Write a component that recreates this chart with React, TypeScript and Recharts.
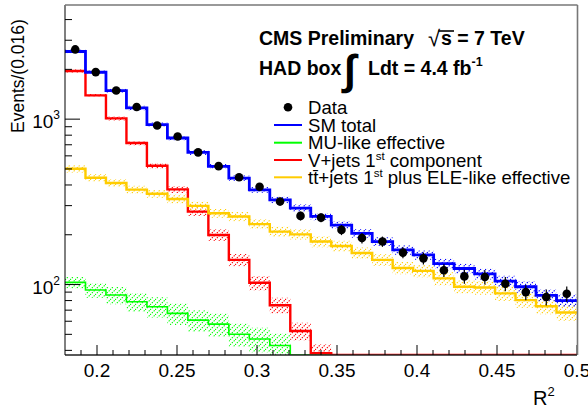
import React from 'react';
import { ComposedChart, Line, Area, Scatter, ErrorBar, XAxis, YAxis } from 'recharts';

const W = 588;
const H = 406;
const FLOOR = 37.5;
const Y_MAX = 4900;
const FONT = '"Liberation Sans", Arial, Helvetica, sans-serif';

// bin edges (25 bins of R^2)
const binEdges = [0.18, 0.1928, 0.2056, 0.2184, 0.2312, 0.244, 0.2568, 0.2696, 0.2824, 0.2952, 0.308, 0.3208, 0.3336, 0.3464, 0.3592, 0.372, 0.3848, 0.3976, 0.4104, 0.4232, 0.436, 0.4488, 0.4616, 0.4744, 0.4872, 0.5];

// observed data
const dataCounts = [2640, 1925, 1490, 1185, 915, 785, 630, 520, 445, 390, 318, 260, 254, 214, 191, 182, 156, 144, 122, 112, 111, 101, 90, 84, 88];
const dataErrors = [51, 44, 39, 34, 30, 28, 25, 23, 21, 20, 18, 16, 16, 15, 14, 13, 12, 12, 11, 11, 11, 10, 9.5, 9.2, 9.4];

// SM total
const smTotal = [2565, 1921, 1488, 1169, 926, 769, 629, 518, 440, 374, 325, 290, 258, 229, 204, 182, 162, 151, 134, 125, 116, 105, 97, 86, 80];
const smTotalErr = [0.025, 0.025, 0.025, 0.03, 0.03, 0.03, 0.035, 0.035, 0.04, 0.04, 0.045, 0.05, 0.05, 0.055, 0.06, 0.06, 0.065, 0.065, 0.07, 0.07, 0.075, 0.075, 0.08, 0.08, 0.085];

// MU-like effective
const muLike = [103, 92.6, 86.4, 78.7, 73.4, 66.9, 60.9, 57.6, 50.1, 46.9, 42.8, 0, 0, 0, 0, 0, 0, 0, 0, 0, 0, 0, 0, 0, 0];
const muLikeErr = [0.08, 0.1, 0.12, 0.13, 0.14, 0.15, 0.15, 0.16, 0.16, 0.17, 0.18, 0, 0, 0, 0, 0, 0, 0, 0, 0, 0, 0, 0, 0, 0];

// V+jets 1st component
const vJets = [1954, 1392, 1011, 717, 523, 376, 276, 199.5, 141, 102.5, 75, 52.4, 38.4, 0, 0, 0, 0, 0, 0, 0, 0, 0, 0, 0, 0];
const vJetsErr = [0.02, 0.02, 0.03, 0.03, 0.04, 0.05, 0.06, 0.08, 0.085, 0.1, 0.11, 0.12, 0.13, 0, 0, 0, 0, 0, 0, 0, 0, 0, 0, 0, 0];

// ttbar+jets 1st plus ELE-like effective
const ttJets = [501, 442, 411, 375, 354, 329, 299, 270, 258, 232, 209, 201, 182, 171, 155, 141, 126, 121, 109, 97, 96, 88.4, 80.5, 74, 67.8];
const ttJetsErr = [0.05, 0.05, 0.05, 0.055, 0.055, 0.06, 0.06, 0.06, 0.065, 0.065, 0.07, 0.07, 0.075, 0.075, 0.08, 0.08, 0.085, 0.085, 0.09, 0.09, 0.095, 0.1, 0.1, 0.105, 0.11];

// axis ticks
const xMinorTicks = [0.19, 0.2, 0.21, 0.22, 0.23, 0.24, 0.25, 0.26, 0.27, 0.28, 0.29, 0.3, 0.31, 0.32, 0.33, 0.34, 0.35, 0.36, 0.37, 0.38, 0.39, 0.4, 0.41, 0.42, 0.43, 0.44, 0.45, 0.46, 0.47, 0.48, 0.49, 0.5];
const xMajorTicks = [0.2, 0.25, 0.3, 0.35, 0.4, 0.45, 0.5];
const xMajorLabels = ['0.2', '0.25', '0.3', '0.35', '0.4', '0.45', '0.5'];
const yTicks = [40, 50, 60, 70, 80, 90, 100, 200, 300, 400, 500, 600, 700, 800, 900, 1000, 2000, 3000, 4000];
const yMajorTicks = [100, 1000];
const yMajorExponents = ['2', '3'];

const NB = smTotal.length;

const lineVal = (vals: number[], i: number) => {
  const v = i < NB ? vals[i] : vals[NB - 1];
  return v > 0 ? v : FLOOR;
};
const bandVal = (vals: number[], rel: number[], i: number) => {
  let j = -1;
  if (i < NB && vals[i] > 0) j = i;
  else if (i > 0 && vals[i - 1] > 0) j = i - 1;
  if (j < 0) return null;
  return [vals[j] * (1 - rel[j]), vals[j] * (1 + rel[j])];
};

const rows = binEdges.map((x, i) => ({
  x,
  sm: lineVal(smTotal, i),
  smBand: bandVal(smTotal, smTotalErr, i),
  mu: lineVal(muLike, i),
  muBand: bandVal(muLike, muLikeErr, i),
  vj: lineVal(vJets, i),
  vjBand: bandVal(vJets, vJetsErr, i),
  tt: lineVal(ttJets, i),
  ttBand: bandVal(ttJets, ttJetsErr, i),
}));

const points = dataCounts.map((y, i) => ({
  x: (binEdges[i] + binEdges[i + 1]) / 2,
  y,
  err: dataErrors[i],
}));

const XTick = (props: any) => {
  const { x, y, payload } = props;
  const v = payload.value;
  const idx = xMajorTicks.findIndex((m) => Math.abs(m - v) < 1e-6);
  const major = idx >= 0;
  return (
    <g>
      <line x1={x} x2={x} y1={y} y2={y - (major ? 10 : 5)} stroke="#000" strokeWidth={1} />
      {major && (
        <text x={x} y={y + 22} textAnchor="middle" fontSize={19} fontFamily={FONT} fill="#000">
          {xMajorLabels[idx]}
        </text>
      )}
    </g>
  );
};

const YTick = (props: any) => {
  const { x, y, payload } = props;
  const v = payload.value;
  const idx = yMajorTicks.findIndex((m) => Math.abs(m - v) < 1e-6);
  const major = idx >= 0;
  return (
    <g>
      <line x1={x} x2={x + (major ? 15 : 7)} y1={y} y2={y} stroke="#000" strokeWidth={1} />
      {major && (
        <text x={x - 5} y={y + 9} textAnchor="end" fontSize={19} fontFamily={FONT} fill="#000">
          10
          <tspan dy={-9} fontSize={12}>
            {yMajorExponents[idx]}
          </tspan>
        </text>
      )}
    </g>
  );
};

const DataDot = (props: any) => {
  const { cx, cy } = props;
  if (cx == null || cy == null) return null;
  return <circle cx={cx} cy={cy} r={4.3} fill="#000" />;
};

const hatch = (id: string, color: string) => (
  <pattern id={id} width={5} height={5} patternUnits="userSpaceOnUse">
    <line x1={0} y1={5} x2={5} y2={0} stroke={color} strokeWidth={1.1} strokeDasharray="1.4 1.2" />
  </pattern>
);

const BLUE = '#0000ff';
const GREEN = '#00ff00';
const RED = '#ff0000';
const ORANGE = '#ffcc00';

const legendRows = [107.3, 125, 142.7, 160, 177.3];
const LEG_FS = 18.6;

export default function App() {
  return (
    <div style={{ position: 'absolute', left: 0, top: 0, width: W, height: H, background: '#fff' }}>
      <ComposedChart width={W} height={H} data={rows} margin={{ top: 5, right: 11, bottom: 11, left: 0 }}>
        <defs>
          {hatch('hBlue', BLUE)}
          {hatch('hGreen', GREEN)}
          {hatch('hRed', RED)}
          {hatch('hOrange', ORANGE)}
        </defs>
        <XAxis
          dataKey="x"
          type="number"
          domain={[0.18, 0.5]}
          allowDataOverflow
          ticks={xMinorTicks}
          interval={0}
          tickSize={0}
          tickMargin={0}
          height={40}
          tick={<XTick />}
          tickLine={false}
          axisLine={{ stroke: '#222', strokeWidth: 1.5 }}
        />
        <YAxis
          scale="log"
          domain={[FLOOR, Y_MAX]}
          allowDataOverflow
          ticks={yTicks}
          interval={0}
          tickSize={0}
          tickMargin={0}
          width={65}
          tick={<YTick />}
          tickLine={false}
          axisLine={{ stroke: '#000', strokeWidth: 1 }}
        />
        <Area dataKey="muBand" type="stepAfter" stroke="none" fill="url(#hGreen)" fillOpacity={1} isAnimationActive={false} activeDot={false} />
        <Line dataKey="mu" type="stepAfter" stroke={GREEN} strokeWidth={1.6} dot={false} activeDot={false} isAnimationActive={false} />
        <Area dataKey="vjBand" type="stepAfter" stroke="none" fill="url(#hRed)" fillOpacity={1} isAnimationActive={false} activeDot={false} />
        <Line dataKey="vj" type="stepAfter" stroke={RED} strokeWidth={2.4} dot={false} activeDot={false} isAnimationActive={false} />
        <Area dataKey="ttBand" type="stepAfter" stroke="none" fill="url(#hOrange)" fillOpacity={1} isAnimationActive={false} activeDot={false} />
        <Line dataKey="tt" type="stepAfter" stroke={ORANGE} strokeWidth={2.4} dot={false} activeDot={false} isAnimationActive={false} />
        <Area dataKey="smBand" type="stepAfter" stroke="none" fill="url(#hBlue)" fillOpacity={1} isAnimationActive={false} activeDot={false} />
        <Line dataKey="sm" type="stepAfter" stroke={BLUE} strokeWidth={2.8} dot={false} activeDot={false} isAnimationActive={false} />
        <Scatter data={points} dataKey="y" fill="#000" shape={<DataDot />} isAnimationActive={false}>
          <ErrorBar dataKey="err" direction="y" width={0} stroke="#000" strokeWidth={1.2} />
        </Scatter>
      </ComposedChart>
      <svg width={W} height={H} style={{ position: 'absolute', left: 0, top: 0, pointerEvents: 'none' }} fontFamily={FONT}>
        {/* frame top / right */}
        <line x1={65} x2={577.5} y1={5} y2={5} stroke="#777" strokeWidth={1.6} />
        <line x1={577.5} x2={577.5} y1={5} y2={355} stroke="#777" strokeWidth={1.6} />
        {/* axis titles */}
        <text transform="translate(24,133) rotate(-90)" fontSize={17.5} fill="#000">Events/(0.016)</text>
        <text x={533} y={405} fontSize={20} fill="#000">
          R<tspan dy={-9} fontSize={13}>2</tspan>
        </text>
        {/* CMS label */}
        <text x={259} y={45} fontSize={19.5} fontWeight="bold" fill="#000">CMS Preliminary</text>
        <text x={428} y={46} fontSize={22} fill="#000">√</text>
        <line x1={438.5} x2={454} y1={31} y2={31} stroke="#000" strokeWidth={1.6} />
        <text x={441} y={45} fontSize={19.5} fontWeight="bold" fill="#000">s = 7 TeV</text>
        <text x={259} y={75} fontSize={19.5} fontWeight="bold" fill="#000">HAD box</text>
        <text x={344} y={84} fontSize={42} fontWeight="bold" fill="#000">∫</text>
        <text x={368} y={75} fontSize={19.5} fontWeight="bold" fill="#000">
          Ldt = 4.4 fb<tspan dy={-9} fontSize={12.5}>-1</tspan>
        </text>
        {/* legend */}
        <circle cx={288} cy={legendRows[0]} r={4.3} fill="#000" />
        <line x1={274} x2={302} y1={legendRows[1]} y2={legendRows[1]} stroke={BLUE} strokeWidth={2} />
        <line x1={274} x2={302} y1={legendRows[2]} y2={legendRows[2]} stroke={GREEN} strokeWidth={2} />
        <line x1={274} x2={302} y1={legendRows[3]} y2={legendRows[3]} stroke={RED} strokeWidth={2} />
        <line x1={274} x2={302} y1={legendRows[4]} y2={legendRows[4]} stroke={ORANGE} strokeWidth={2} />
        <text x={308} y={legendRows[0] + 6.5} fontSize={LEG_FS} fill="#000">Data</text>
        <text x={308} y={legendRows[1] + 6.5} fontSize={LEG_FS} fill="#000">SM total</text>
        <text x={308} y={legendRows[2] + 6.5} fontSize={LEG_FS} fill="#000">MU-like effective</text>
        <text x={308} y={legendRows[3] + 6.5} fontSize={LEG_FS} fill="#000">
          V+jets 1<tspan dy={-7} fontSize={11.5}>st</tspan>
          <tspan dy={7}> component</tspan>
        </text>
        <text x={308} y={legendRows[4] + 6.5} fontSize={LEG_FS} fill="#000">
          t{'t\u0304'}+jets 1<tspan dy={-7} fontSize={11.5}>st</tspan>
          <tspan dy={7}> plus ELE-like effective</tspan>
        </text>
      </svg>
    </div>
  );
}
